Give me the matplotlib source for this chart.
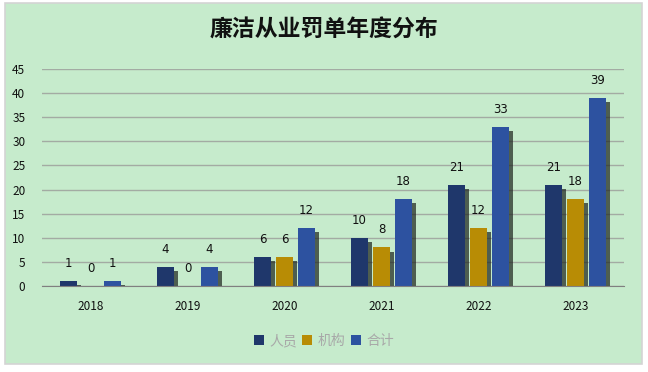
import numpy as np
import matplotlib.pyplot as plt
import matplotlib.patheffects as pe

plt.rcParams['font.family'] = ['Noto Sans CJK SC', 'DejaVu Sans']

years = ['2018', '2019', '2020', '2021', '2022', '2023']
people = [1, 4, 6, 10, 21, 21]
orgs = [0, 0, 6, 8, 12, 18]
total = [1, 4, 12, 18, 33, 39]

series = [('人员', people, '#1f376b'),
          ('机构', orgs, '#b88c05'),
          ('合计', total, '#2d52a0')]

bg = '#c6ebcc'
fig = plt.figure(figsize=(6.48, 3.72), dpi=100, facecolor='white')
# green panel with thin grey border
panel = plt.Rectangle((5 / 648, 1 - 364 / 372), 637 / 648, 361 / 372,
                      transform=fig.transFigure, facecolor=bg,
                      edgecolor='#d4d4d4', linewidth=1.2, zorder=-5)
fig.patches.append(panel)

ax = fig.add_axes([42 / 648, 1 - 286 / 372, 582 / 648, 217 / 372])
ax.patch.set_alpha(0)

x = np.arange(len(years))
width = 0.175
step = 0.227
shadow = [pe.SimplePatchShadow(offset=(3, -3), shadow_rgbFace='#1c221c', alpha=0.7),
          pe.Normal()]
for i, (name, vals, color) in enumerate(series):
    pos = x + (i - 1) * step
    bars = ax.bar(pos, vals, width, color=color, label=name, zorder=3,
                  path_effects=shadow)
    for b, v in zip(bars, vals):
        ax.annotate(str(v), (b.get_x() + b.get_width() / 2, v),
                    xytext=(0, 8), textcoords='offset points',
                    ha='center', va='bottom', fontsize=8.5, color='#111111',
                    family='DejaVu Sans')

ax.set_xlim(-0.5, len(years) - 0.5)
ax.set_ylim(0, 45)
ax.set_yticks(range(0, 46, 5))
ax.set_xticks(x)
ax.set_xticklabels(years)
ax.tick_params(axis='both', length=0, labelsize=8.5, colors='#111111', pad=10)
ax.tick_params(axis='y', pad=12)
ax.yaxis.grid(True, color='#a3aba3', linewidth=1)
ax.set_axisbelow(True)
for s in ['top', 'right', 'left']:
    ax.spines[s].set_visible(False)
ax.spines['bottom'].set_color('#808080')
ax.spines['bottom'].set_zorder(4)

fig.text(0.5, 1 - 30 / 372, '廉洁从业罚单年度分布', ha='center', va='center',
         fontsize=16.5, fontweight='bold', color='#111111')

leg = fig.legend(loc='center', bbox_to_anchor=(0.5, 1 - 341 / 372), ncol=3,
                 frameon=False, fontsize=10, handlelength=0.7, handleheight=0.7,
                 handletextpad=0.4, columnspacing=0.4)
for t in leg.get_texts():
    t.set_color('#a8a8a8')
for h in leg.legend_handles:
    h.set_path_effects([])

fig.savefig('out.png', dpi=100, facecolor=fig.get_facecolor())
